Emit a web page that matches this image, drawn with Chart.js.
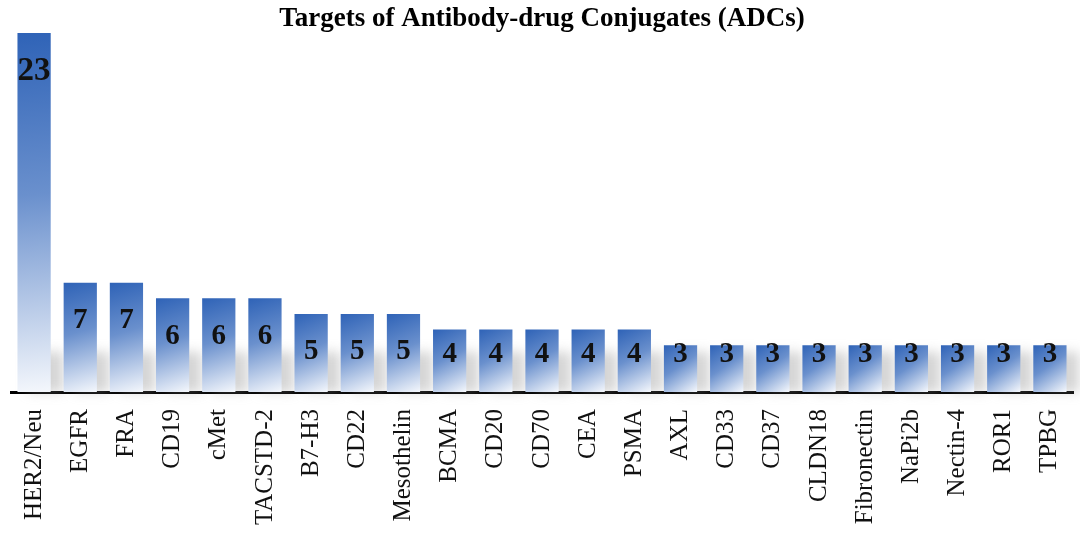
<!DOCTYPE html>
<html>
<head>
<meta charset="utf-8">
<script src="https://cdn.jsdelivr.net/npm/chart.js@4"></script>
<style>
  html, body { margin: 0; padding: 0; background: #fff; }
  #wrap { width: 1080px; height: 536px; }
</style>
</head>
<body>
<div id="wrap"><canvas id="barGraph" width="1080" height="536"></canvas></div>
<script>
const targets = ["HER2/Neu", "EGFR", "FRA", "CD19", "cMet", "TACSTD-2", "B7-H3", "CD22", "Mesothelin",
    "BCMA", "CD20", "CD70", "CEA", "PSMA", "AXL", "CD33", "CD37", "CLDN18", "Fibronectin",
    "NaPi2b", "Nectin-4", "ROR1", "TPBG"];
const adcCount = [23, 7, 7, 6, 6, 6, 5, 5, 5, 4, 4, 4, 4, 4, 3, 3, 3, 3, 3, 3, 3, 3, 3];
const chartTitle = "Targets of Antibody-drug Conjugates (ADCs)";

const SERIF = "'Liberation Serif', 'Times New Roman', serif";

// blue at the top-left fading to white at the bottom-right, one gradient per bar
function barGradient(context){
    const chart = context.chart;
    if(!chart.chartArea) return "#4a7cc4";
    const x = chart.scales.x, y = chart.scales.y;
    const cx = x.getPixelForValue(context.dataIndex);
    const top = y.getPixelForValue(context.raw);
    const bottom = y.getPixelForValue(0);
    const g = chart.ctx.createLinearGradient(cx - 16, top, cx + 16, bottom);
    g.addColorStop(0, "#2f63b7");
    g.addColorStop(0.45, "#6a90cd");
    g.addColorStop(1, "#f4f7fc");
    return g;
}

// soft grey smudge behind the foot of each bar
const shadowPlugin = {
    id: "barShadow",
    beforeDatasetsDraw(chart){
        const ctx = chart.ctx;
        const meta = chart.getDatasetMeta(0);
        const base = chart.scales.y.getPixelForValue(0);
        ctx.save();
        ctx.filter = "blur(6px)";
        ctx.fillStyle = "rgba(150,150,150,0.4)";
        meta.data.forEach(bar => {
            const h = Math.min(40, base - bar.y);
            ctx.fillRect(bar.x - 6, base - h, bar.width + 2, h);
        });
        ctx.restore();
    }
};

// value printed inside the top of each bar
const valuePlugin = {
    id: "barValues",
    afterDatasetsDraw(chart){
        const ctx = chart.ctx;
        const meta = chart.getDatasetMeta(0);
        const base = chart.scales.y.getPixelForValue(0);
        ctx.save();
        ctx.fillStyle = "#111";
        ctx.textAlign = "center";
        ctx.textBaseline = "middle";
        meta.data.forEach((bar, i) => {
            const v = adcCount[i];
            ctx.font = (v > 9 ? "bold 33px " : "bold 29px ") + SERIF;
            const yy = Math.min(bar.y + 38, base - 37);
            ctx.fillText(String(v), bar.x, yy);
        });
        ctx.restore();
    }
};

const chart = new Chart(document.getElementById("barGraph").getContext("2d"), {
    type: "bar",
    data: {
        labels: targets,
        datasets: [{
            data: adcCount,
            backgroundColor: barGradient,
            borderWidth: 0,
            barPercentage: 0.72,
            categoryPercentage: 1.0
        }]
    },
    options: {
        responsive: false,
        animation: false,
        layout: { padding: { left: 11, right: 7, top: 0, bottom: 0 } },
        plugins: {
            legend: { display: false },
            tooltip: { enabled: false },
            title: {
                display: true,
                text: chartTitle,
                color: "#000",
                font: { family: SERIF, size: 27, weight: "bold", lineHeight: 1.0 },
                padding: { top: 6, bottom: 0 }
            }
        },
        scales: {
            y: {
                display: false,
                min: 0,
                max: 23
            },
            x: {
                grid: { display: false, drawTicks: false },
                border: { display: true, color: "#000", width: 3 },
                ticks: {
                    color: "#111",
                    font: { family: SERIF, size: 25 },
                    minRotation: 90,
                    maxRotation: 90,
                    padding: 17,
                    autoSkip: false
                },
                afterFit(scale){
                    scale.height = 144;
                    scale.paddingLeft = 0;
                    scale.paddingRight = 0;
                }
            }
        }
    },
    plugins: [shadowPlugin, valuePlugin]
});
</script>
</body>
</html>
